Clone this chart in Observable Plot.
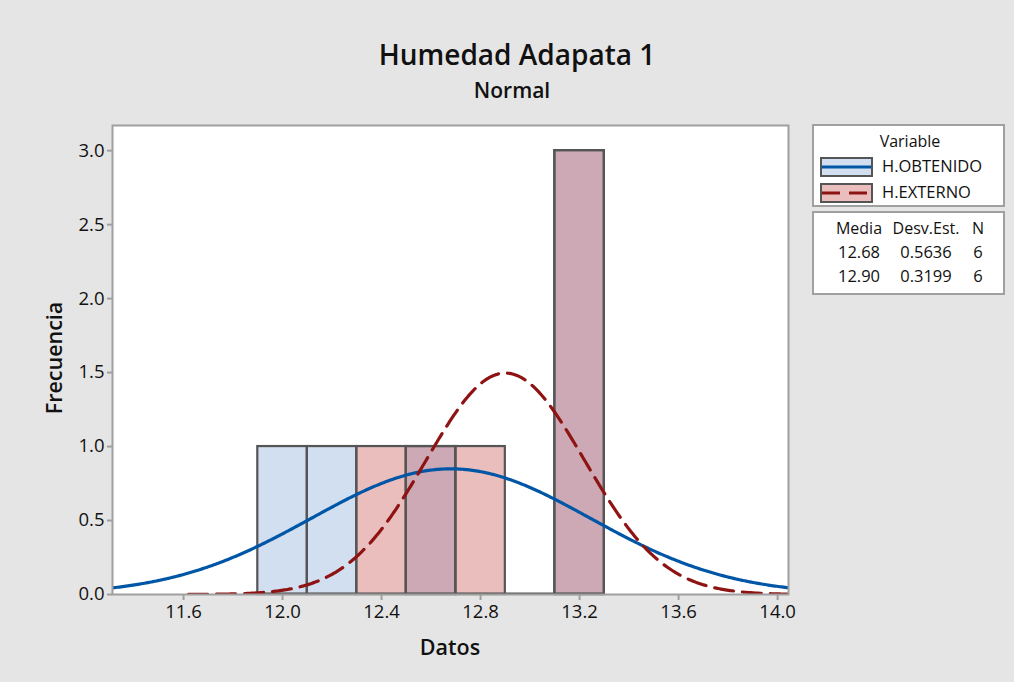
<!DOCTYPE html>
<html><head><meta charset="utf-8">
<script src="https://cdn.jsdelivr.net/npm/d3@7"></script>
<script src="https://cdn.jsdelivr.net/npm/@observablehq/plot@0.6"></script>
<style>
body{margin:0;background:#e5e5e5;font-family:"Open Sans",sans-serif;}
#wrap{position:relative;width:1014px;height:682px;overflow:hidden;background:#e5e5e5;}
#wrap svg{position:absolute;left:0;top:0;}
</style></head><body><div id="wrap"></div>
<script>
// ---- data ----
const title = "Humedad Adapata 1";
const subtitle = "Normal";
const xLabel = "Datos";
const yLabel = "Frecuencia";
const seriesNames = ["H.OBTENIDO", "H.EXTERNO"];
const binCenters = [12.0, 12.2, 12.4, 12.6, 12.8, 13.0, 13.2];
const binWidth = 0.2;
const countsObtenido = [1, 1, 0, 1, 0, 0, 3];
const countsExterno = [0, 0, 1, 1, 1, 0, 3];
const means = [12.68, 12.90];
const stdDevs = [0.5636, 0.3199];
const ns = [6, 6];
const meanLabels = ["12.68", "12.90"];
const sdLabels = ["0.5636", "0.3199"];
const statHeaders = ["Media", "Desv.Est.", "N"];
const xTicks = [11.6, 12.0, 12.4, 12.8, 13.2, 13.6, 14.0];
const yTicks = [0, 0.5, 1.0, 1.5, 2.0, 2.5, 3.0];
const xDomain = [11.313, 14.044];
const yDomain = [0, 3.17];

// ---- styles ----
const barFills = ["#d1dff0", "rgb(196,64,64)"];
const barOpacity = [1, 0.34];
const lineColors = ["#0056a6", "#8e1414"];
const dashes = [null, "19,9"];
const font = "Open Sans, sans-serif";

const counts = [countsObtenido, countsExterno];
const bars = counts.map((cs, s) => cs.map((c, i) => ({
  series: seriesNames[s], x1: binCenters[i] - binWidth / 2, x2: binCenters[i] + binWidth / 2, y: c
})));

// normal fit curves scaled to histogram counts
function curve(s) {
  const lo = Math.max(xDomain[0], means[s] - 4 * stdDevs[s]);
  const hi = Math.min(xDomain[1], means[s] + 4 * stdDevs[s]);
  const n = 400, k = ns[s] * binWidth;
  return d3.range(n + 1).map(i => {
    const x = lo + (hi - lo) * i / n;
    const z = (x - means[s]) / stdDevs[s];
    return {x, y: k * Math.exp(-0.5 * z * z) / (stdDevs[s] * Math.sqrt(2 * Math.PI))};
  });
}

const W = 1014, H = 682;
const plot = Plot.plot({
  width: W, height: H,
  marginLeft: 112, marginRight: W - 788, marginTop: 125, marginBottom: H - 594,
  style: {background: "transparent", fontFamily: font, fontSize: "18px", color: "#000", overflow: "visible"},
  x: {domain: xDomain},
  y: {domain: yDomain},
  marks: [
    Plot.frame({fill: "white"}),
    Plot.rect(bars[0].filter(d => d.y > 0), {x1: "x1", x2: "x2", y1: () => 0, y2: "y", fill: barFills[0], fillOpacity: barOpacity[0]}),
    Plot.rect(bars[1].filter(d => d.y > 0), {x1: "x1", x2: "x2", y1: () => 0, y2: "y", fill: barFills[1], fillOpacity: barOpacity[1]}),
    Plot.rect(bars.flat().filter(d => d.y > 0), {x1: "x1", x2: "x2", y1: () => 0, y2: "y", fill: "none", stroke: "#555", strokeWidth: 2.2}),
    Plot.ruleY([0], {x1: binCenters[0] - binWidth / 2, x2: binCenters[binCenters.length - 1] + binWidth / 2, stroke: "#555", strokeWidth: 2, dy: -1}),
    Plot.line(curve(0), {x: "x", y: "y", stroke: lineColors[0], strokeWidth: 3.2, clip: true}),
    Plot.line(curve(1), {x: "x", y: "y", stroke: lineColors[1], strokeWidth: 3.2, strokeDasharray: dashes[1], clip: true}),
    Plot.frame({stroke: "#9f9f9f", strokeWidth: 2}),
    Plot.axisX(xTicks, {tickSize: 6, tickPadding: 4, stroke: "#9f9f9f", strokeWidth: 2, fill: "#111", fontSize: 18.5, tickFormat: d3.format(".1f"), label: null}),
    Plot.axisY(yTicks, {tickSize: 5, tickPadding: 3, stroke: "#9f9f9f", strokeWidth: 2, fill: "#111", fontSize: 18.5, tickFormat: d3.format(".1f"), label: null})
  ]
});
document.getElementById("wrap").appendChild(plot);

// ---- overlay: titles, axis labels, legend ----
const svg = d3.select("#wrap").append("svg").attr("width", W).attr("height", H)
  .style("font-family", font).style("pointer-events", "none");
svg.append("text").attr("x", 517).attr("y", 65).attr("text-anchor", "middle")
  .attr("font-size", 28).attr("font-weight", 600).attr("fill", "#111").text(title);
svg.append("text").attr("x", 512).attr("y", 98).attr("text-anchor", "middle")
  .attr("font-size", 21).attr("font-weight", 600).attr("fill", "#111").text(subtitle);
svg.append("text").attr("x", 450).attr("y", 655).attr("text-anchor", "middle")
  .attr("font-size", 21.5).attr("font-weight", 600).attr("fill", "#111").text(xLabel);
svg.append("text").attr("transform", "translate(62,358) rotate(-90)").attr("text-anchor", "middle")
  .attr("font-size", 21.5).attr("font-weight", 600).attr("fill", "#111").text(yLabel);

// legend box 1
const lg = svg.append("g");
lg.append("rect").attr("x", 813).attr("y", 125).attr("width", 191).attr("height", 81)
  .attr("fill", "white").attr("stroke", "#a0a0a0").attr("stroke-width", 2);
lg.append("text").attr("x", 910).attr("y", 147).attr("text-anchor", "middle")
  .attr("font-size", 16).attr("fill", "#111").text("Variable");
seriesNames.forEach((name, i) => {
  const y0 = 158 + i * 26;
  lg.append("rect").attr("x", 821).attr("y", y0).attr("width", 51).attr("height", 18)
    .attr("fill", barFills[i]).attr("fill-opacity", barOpacity[i]).attr("stroke", "#555").attr("stroke-width", 2);
  lg.append("line").attr("x1", 822).attr("x2", 871).attr("y1", y0 + 9).attr("y2", y0 + 9)
    .attr("stroke", lineColors[i]).attr("stroke-width", 3.2)
    .attr("stroke-dasharray", dashes[i] ? "18,9" : null);
  lg.append("text").attr("x", 882).attr("y", y0 + 14).attr("font-size", 16.5).attr("fill", "#111").text(name);
});
// legend box 2
const sg = svg.append("g");
sg.append("rect").attr("x", 813).attr("y", 212).attr("width", 191).attr("height", 82)
  .attr("fill", "white").attr("stroke", "#a0a0a0").attr("stroke-width", 2);
const colX = [859, 926, 978];
statHeaders.forEach((h, j) => sg.append("text").attr("x", colX[j]).attr("y", 234)
  .attr("text-anchor", "middle").attr("font-size", 16).attr("font-weight", 500).attr("fill", "#111").text(h));
seriesNames.forEach((_, i) => {
  const y = 258 + i * 24;
  [meanLabels[i], sdLabels[i], String(ns[i])].forEach((v, j) =>
    sg.append("text").attr("x", colX[j]).attr("y", y).attr("text-anchor", "middle")
      .attr("font-size", 16.5).attr("fill", "#111").text(v));
});
</script></body></html>
